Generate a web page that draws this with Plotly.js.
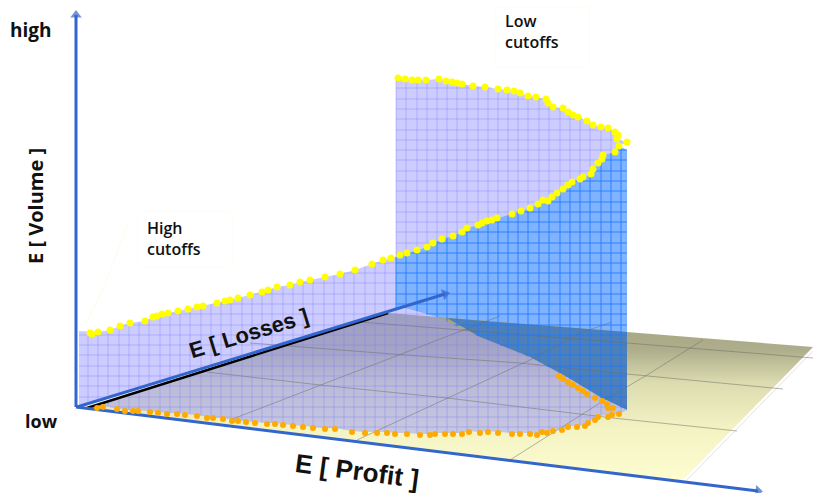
<!DOCTYPE html>
<html>
<head>
<meta charset="utf-8">
<script src="https://cdn.plot.ly/plotly-3.0.1.min.js"></script>
<style>html,body{margin:0;padding:0;background:#fff}#chart{width:813px;height:493px}</style>
</head>
<body>
<div id="chart"></div>
<script>
// Expected frontier (plot units = picture pixels)
var highLeftX = [90,92,98,110,120,130,145,153,157,162,168,178,188,197,203,217,225,230,238,250,262,268,277,290,300,310,325,340,355,372,383];
var highLeftY = [333,334,332,330,326,323,321,317,316,314,313,311,309,307,306,303,301,300,298,295,292,290,287,285,282,280,277,274,270,264,260];
var riseX = [391,400,407,417,427,433,442,453,462,467,478,482,487,492,497,512,521,530,538,543,548,552,557,563,568,572,580,583,591,593,598,602,603,615,619];
var riseY = [258,255,253,250,247,243,239,236,232,228,225,223,221,220,218,214,211,208,204,200,201,197,193,189,185,182,179,177,174,169,163,159,155,152,146];
var topX = [627,617,618,615,608,601,593,587,578,573,568,563,553,548,546,536,528,520,514,507,498,485,473,462,457,452,446,439,426,418,412,405,398];
var topY = [142,139,135,132,128,127,125,121,117,115,112,108,107,103,99,97,96,93,91,90,89,87,86,84,83,82,81,79,80,80,80,79,78];
var floorFrontX = [97,103,117,125,133,138,150,158,167,177,185,197,207,213,223,232,238,246,255,267,275,283,293,303,313,325,335,352,365,377,387,395,407,420,430,435,445,453,462,469,480,488,498,512,520,530,537,542,547,553,562,568,577,585,588,595,598];
var floorFrontY = [408,407,409,411,411,411,412,413,414,414,415,416,418,418,419,421,421,422,423,424,424,425,426,427,428,429,429,432,433,433,433,434,434,435,435,434,434,434,434,432,433,432,433,434,434,434,435,432,433,431,430,427,427,426,423,420,417];
var floorTurnX = [608,612,619,613,608,607,602,595,587,583,578,573,568,563,559];
var floorTurnY = [417,415,414,408,408,404,401,398,394,391,388,385,382,379,376];

// Panels and floor outlines
var floorX = [388,813,681,87];
var floorY = [313,347,482,408];
var curveX = [396,405,437,480,530,567,600,627];
var curveY = [308,308,317,337,357,377,397,410];

// Floor reference lines
var depthLines = [
  {x:[230,465,500], y:[420,330,316]},
  {x:[357,530,580,612], y:[440,360,333,322]},
  {x:[510,600,647,703], y:[460,403,375,340]}
];
var crossLines = [
  {x:[360,465,627,813], y:[322,330,343,358]},
  {x:[250,405,520,627,783], y:[343,355,363,374,389]},
  {x:[207,320,447,613,737], y:[372,385,398,418,431]}
];

// Mesh positions
var meshX = [88,98,108,119,129,139,149,160,170,180,190,201,211,221,231,242,252,262,272,283,293,303,313,324,334,344,354,365,375,385,396,406,417,427,437,447,457,467,478,488,498,508,518,528,539,549,560,570,580,590,601,611,621];
var meshY = [88,99,109,119,130,140,150,160,171,181,191,202,212,222,232,243,253,263,273,283,294,304,314,325,335,345,355,366,376,386,397,407,417,427];

var LAV = 'rgba(153,153,255,0.5)', LAVGRID = 'rgba(120,120,255,0.38)';
var BLUE = '#80b3ff', BLUEGRID = 'rgba(30,120,255,0.85)', AXIS = '#3366cc';

function rev(a){return a.slice().reverse();}
var leftPanelX = [79].concat(highLeftX.slice(2), [396,396,79]);
var leftPanelY = [331].concat(highLeftY.slice(2), [257,308,406]);
var upperX = [396].concat(rev(topX), rev(riseX).filter(function(v){return v>=396;}), [396]);
var upperY = [78].concat(rev(topY), rev(riseY).filter(function(v,i){return rev(riseX)[i]>=396;}), [257]);
var blueX = [396].concat(riseX.filter(function(v){return v>=396;}), [627,627], rev(curveX).slice(1));
var blueY = [257].concat(riseY.filter(function(v,i){return riseX[i]>=396;}), [150,410], rev(curveY).slice(1));
var darkX = [447,627,627,600,567,530,480];
var darkY = [318,332,410,397,377,357,337];
var lavFloorX = [388].concat(curveX, [619,598], rev(floorFrontX), [87]);
var lavFloorY = [313].concat(curveY, [414,416], rev(floorFrontY).map(function(v){return v-1;}), [408]);

function area(x,y,color,extra){
  var t = {x:x,y:y,mode:'lines',fill:'toself',fillcolor:color,line:{width:0},hoverinfo:'skip',showlegend:false};
  for (var k in extra) t[k]=extra[k];
  return t;
}
function clipMesh(px,py,color){
  var X=[],Y=[],n=px.length;
  meshX.forEach(function(g){
    var hits=[];
    for(var i=0;i<n;i++){var j=(i+1)%n;
      if((px[i]<=g)!==(px[j]<=g)) hits.push(py[i]+(g-px[i])/(px[j]-px[i])*(py[j]-py[i]));}
    hits.sort(function(a,b){return a-b;});
    for(var h=0;h+1<hits.length;h+=2){X.push(g,g,null);Y.push(hits[h],hits[h+1],null);}
  });
  meshY.forEach(function(g){
    var hits=[];
    for(var i=0;i<n;i++){var j=(i+1)%n;
      if((py[i]<=g)!==(py[j]<=g)) hits.push(px[i]+(g-py[i])/(py[j]-py[i])*(px[j]-px[i]));}
    hits.sort(function(a,b){return a-b;});
    for(var h=0;h+1<hits.length;h+=2){X.push(hits[h],hits[h+1],null);Y.push(g,g,null);}
  });
  return {x:X,y:Y,mode:'lines',line:{color:color,width:1},hoverinfo:'skip',showlegend:false};
}
function line(x,y,color,width){
  return {x:x,y:y,mode:'lines',line:{color:color,width:width},hoverinfo:'skip',showlegend:false};
}
function arrow(x,y){
  return {x:x,y:y,mode:'lines+markers',line:{color:AXIS,width:3},cliponaxis:false,
    marker:{symbol:'triangle-up',size:[0,10],color:AXIS,angleref:'previous',line:{width:0}},
    hoverinfo:'skip',showlegend:false};
}
function dots(x,y,color,size){
  return {x:x,y:y,mode:'markers',marker:{color:color,size:size,line:{width:0}},hoverinfo:'skip',showlegend:false};
}

var traces = [
  line([138,232,232,138,138],[211,211,267,267,211],'#fefef2',1),
  line([128,107,88],[223,280,320],'#fcfcec',1),
  line([495,589,589,495,495],[7,7,67,67,7],'#fefef2',1),
  area(blueX,blueY,BLUE),
  area(floorX.concat(floorX[0]),floorY.concat(floorY[0]),'#eeeecc',{
    fillgradient:{type:'vertical',colorscale:[[0,'#fdfdd0'],[0.31,'#f3f3c4'],[0.586,'#dcdcb0'],[0.78,'#aeae8c'],[1,'#a3a380']]}}),
  line([683,815],[484,349],'#e2e2e2',1),
  area(darkX,darkY,'#4d7fb8'),
  area(leftPanelX,leftPanelY,LAV),
  area(upperX,upperY,LAV),
  area(lavFloorX,lavFloorY,LAV)
];
crossLines.concat(depthLines).forEach(function(l){traces.push(line(l.x,l.y,'rgba(110,110,100,0.5)',1));});
traces.push(clipMesh(leftPanelX,leftPanelY,LAVGRID));
traces.push(clipMesh(upperX,upperY,LAVGRID));
traces.push(clipMesh(lavFloorX,lavFloorY,LAVGRID));
traces.push(clipMesh(blueX,blueY,BLUEGRID));
traces.push(line([87,388],[408,313],'#000000',2.5));
traces.push(arrow([76,76],[407,15]));
traces.push(arrow([76,758],[407,491]));
traces.push(arrow([77,445],[407,294]));
traces.push(dots(highLeftX.concat(riseX,topX),highLeftY.concat(riseY,topY),'#ffff00',7));
traces.push(dots(floorFrontX.concat(floorTurnX),floorFrontY.concat(floorTurnY),'#ffaa00',6));

function note(text,x,y,size,family,weight,angle,anchor){
  return {text:text,x:x,y:y,xref:'x',yref:'y',showarrow:false,textangle:angle||0,xanchor:anchor||'center',yanchor:'middle',
    align:'left',font:{family:family,size:size,color:'#111111',weight:weight}};
}
var UI='"Open Sans", sans-serif', AR='"Liberation Sans", Arial, sans-serif';
var layout = {
  width:813,height:493,margin:{l:0,r:0,t:0,b:0},paper_bgcolor:'#fff',plot_bgcolor:'#fff',showlegend:false,
  xaxis:{range:[0,813],visible:false,fixedrange:true},
  yaxis:{range:[493,0],visible:false,fixedrange:true},
  annotations:[
    note('high',31,30,19,UI,700),
    note('low',41,421,18,UI,700),
    note('E [ Volume ]',35,206,20,UI,700,-90),
    note('High<br>cutoffs',145,238,16,UI,600,0,'left'),
    note('Low<br>cutoffs',503,31,16,UI,600,0,'left'),
    note('E [ Losses ]',248,333,22,AR,700,-17),
    note('E [ Profit ]',357,471,26,AR,700,7.5)
  ]
};
Plotly.newPlot('chart',traces,layout,{displayModeBar:false,staticPlot:true});
</script>
</body>
</html>
